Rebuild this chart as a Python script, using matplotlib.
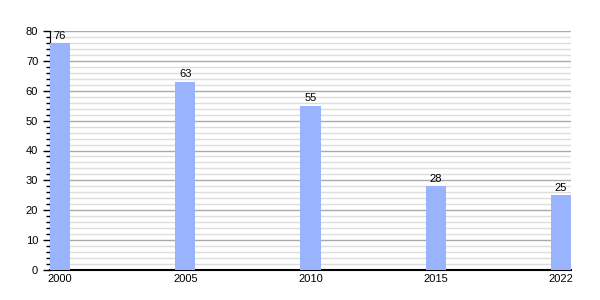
import matplotlib
matplotlib.use("Agg")
import matplotlib.pyplot as plt
from matplotlib.ticker import MultipleLocator

years = ["2000", "2005", "2010", "2015", "2022"]
values = [76, 63, 55, 28, 25]

plt.rcParams['font.family'] = ['Liberation Sans', 'DejaVu Sans']

fig = plt.figure(figsize=(6, 3), dpi=100)
ax = fig.add_axes([50/600, 1-270/300, (571-50)/600, (270-31)/300])

x = list(range(len(years)))
bars = ax.bar(x, values, width=0.16, color='#99b3ff', zorder=3)
for xi, v in zip(x, values):
    ax.text(xi, v + 0.8, str(v), ha='center', va='bottom', fontsize=8, zorder=4)

ax.set_xlim(-0.08, 4.08)
ax.set_ylim(0, 80)
ax.set_xticks(x)
ax.set_xticklabels(years, fontsize=8)
ax.tick_params(axis='x', length=0, pad=3)
ax.yaxis.set_major_locator(MultipleLocator(10))
ax.yaxis.set_minor_locator(MultipleLocator(2))
ax.tick_params(axis='y', which='major', length=5, labelsize=8, width=1)
ax.tick_params(axis='y', which='minor', length=3, width=1)
ax.grid(axis='y', which='major', color='#aaaaaa', linewidth=1, zorder=0)
ax.grid(axis='y', which='minor', color='#dddddd', linewidth=1, zorder=0)
for s in ['top', 'right']:
    ax.spines[s].set_visible(False)
ax.spines['left'].set_color('black')
ax.spines['bottom'].set_color('black')
ax.spines['bottom'].set_linewidth(1.5)

fig.savefig("out.png", dpi=100)
